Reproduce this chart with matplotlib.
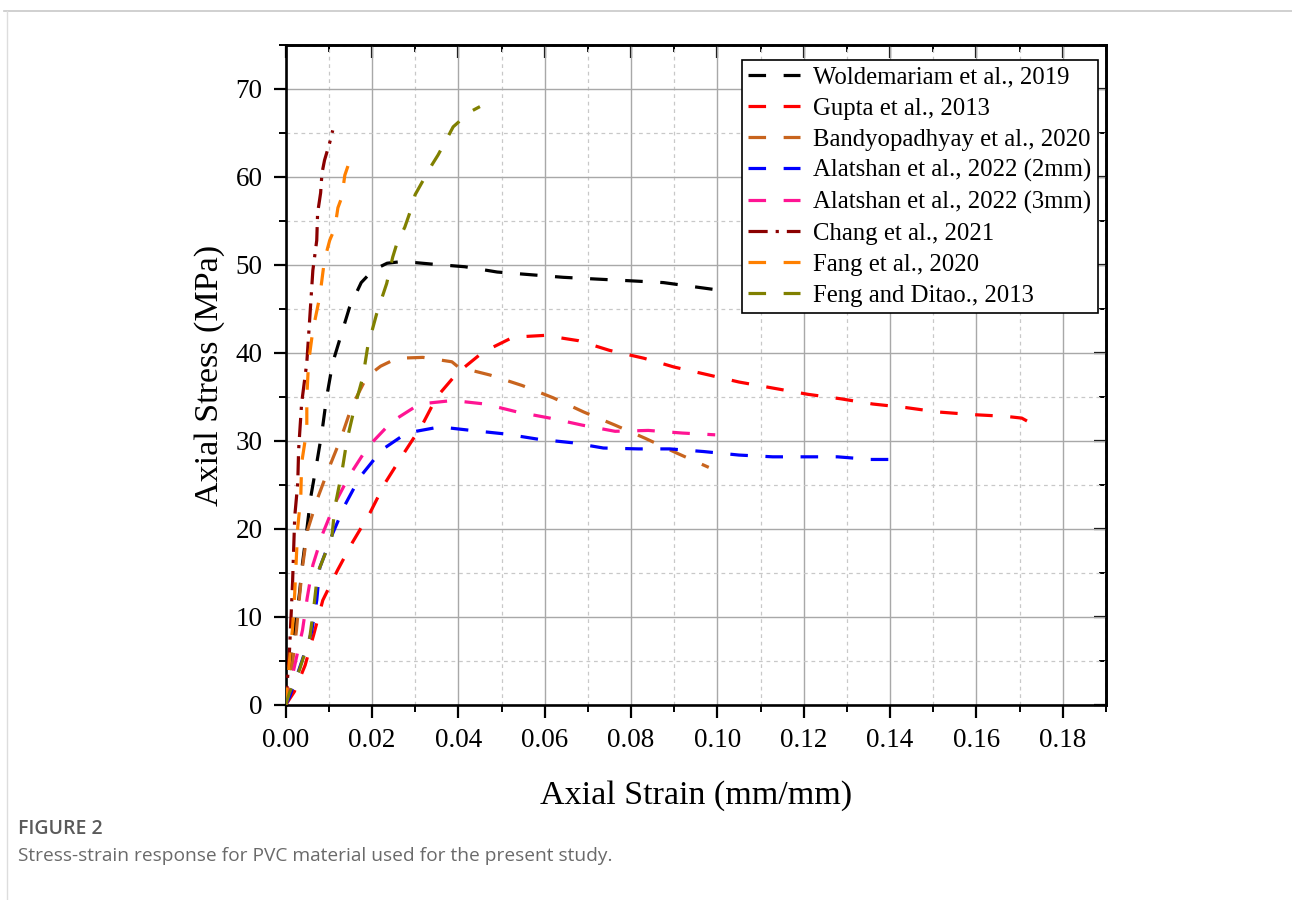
import numpy as np
import matplotlib
matplotlib.use('Agg')
import matplotlib.pyplot as plt
from matplotlib.lines import Line2D
from matplotlib.ticker import MultipleLocator

wold_x = [0, 0.0009, 0.0021, 0.0032, 0.0039, 0.0049, 0.0058, 0.0072, 0.0084, 0.0095, 0.0109, 0.013, 0.0148,
          0.0175, 0.0202, 0.0235, 0.0271, 0.0339, 0.0415, 0.049, 0.0566, 0.0643, 0.072, 0.080, 0.0875, 0.095, 0.1025]
wold_y = [0, 4.3, 8.5, 12.7, 16.1, 19.9, 23.6, 27.5, 31.0, 35.0, 38.9, 42.3, 45.2,
          48.0, 49.4, 50.2, 50.4, 50.1, 49.8, 49.2, 48.9, 48.6, 48.4, 48.2, 48.0, 47.5, 47.0]

gupta_x = [0, 0.002, 0.0045, 0.0065, 0.0086, 0.012, 0.0155, 0.0195, 0.023, 0.0271, 0.0316, 0.035, 0.0397,
           0.0457, 0.0527, 0.060, 0.0678, 0.075, 0.083, 0.090, 0.098, 0.105, 0.113, 0.121, 0.1285, 0.136,
           0.1436, 0.151, 0.159, 0.1668, 0.1705, 0.1742]
gupta_y = [0, 1.5, 4.5, 8.0, 11.9, 15.3, 18.5, 21.8, 25.2, 28.4, 31.8, 35.0, 37.7,
           40.1, 41.8, 42.0, 41.4, 40.3, 39.4, 38.4, 37.5, 36.7, 36.0, 35.3, 34.8, 34.2,
           33.8, 33.3, 33.0, 32.8, 32.6, 31.6]

bandy_x = [0, 0.0016, 0.0025, 0.0032, 0.0039, 0.0051, 0.0074, 0.010, 0.0128, 0.0153, 0.0188, 0.022, 0.0258,
           0.0318, 0.0385, 0.040, 0.0473, 0.0548, 0.062, 0.069, 0.0763, 0.0833, 0.0907, 0.098]
bandy_y = [0, 4.8, 8.5, 12.3, 15.7, 19.9, 23.5, 26.9, 30.3, 33.9, 37.3, 38.5, 39.4,
           39.5, 39.0, 38.4, 37.5, 36.3, 34.9, 33.3, 31.8, 30.3, 28.6, 27.0]

ala2_x = [0, 0.0009, 0.0037, 0.006, 0.0072, 0.0079, 0.0109, 0.0137, 0.0172, 0.0223, 0.028, 0.0357, 0.043,
          0.0508, 0.0585, 0.0664, 0.0736, 0.0817, 0.089, 0.0968, 0.105, 0.1128, 0.12, 0.1278, 0.1355, 0.1432]
ala2_y = [0, 0.9, 4.9, 8.3, 11.9, 15.6, 19.5, 22.7, 25.9, 29.0, 30.9, 31.6, 31.2,
          30.8, 30.2, 29.8, 29.2, 29.1, 29.1, 28.8, 28.4, 28.2, 28.2, 28.2, 27.9, 27.9]

ala3_x = [0, 0.0021, 0.0039, 0.005, 0.0063, 0.0086, 0.0115, 0.0148, 0.019, 0.0246, 0.031, 0.0387, 0.0462,
          0.0536, 0.0612, 0.0687, 0.0763, 0.084, 0.0919, 0.0995]
ala3_y = [0, 4.5, 8.5, 12.2, 15.9, 19.5, 23.0, 26.1, 29.3, 32.2, 34.2, 34.6, 34.2,
          33.3, 32.6, 31.8, 31.1, 31.2, 30.9, 30.7]

chang_x = [0, 0.0009, 0.0016, 0.0021, 0.0028, 0.003, 0.0037, 0.0049, 0.0056, 0.0063, 0.0072, 0.0074,
           0.0081, 0.0084, 0.009, 0.0102, 0.0109]
chang_y = [0, 6.3, 13.9, 21.4, 25.2, 29.0, 34.3, 38.9, 44.1, 49.4, 52.8, 55.9,
           58.2, 60.4, 61.9, 63.9, 65.3]

fang_x = [0, 0.0009, 0.0016, 0.0021, 0.0028, 0.0035, 0.0037, 0.0049, 0.0049, 0.0053, 0.0063, 0.0079,
          0.009, 0.0102, 0.0114, 0.0121, 0.013, 0.0137, 0.0146]
fang_y = [0, 5.1, 8.8, 12.7, 20.2, 23.6, 27.5, 31.3, 35.0, 38.9, 42.6, 46.4,
          50.6, 52.8, 54.2, 56.5, 57.7, 60.2, 61.5]

feng_x = [0, 0.0009, 0.0032, 0.0056, 0.0065, 0.0074, 0.0107, 0.0114, 0.013, 0.0142, 0.016, 0.0179, 0.019,
          0.0211, 0.0234, 0.0248, 0.0258, 0.0276, 0.0288, 0.030, 0.0316, 0.0339, 0.0353, 0.0374, 0.0388,
          0.0427, 0.045]
feng_y = [0, 1.4, 4.0, 7.7, 11.0, 15.0, 19.1, 22.5, 26.4, 30.1, 33.9, 37.3, 40.7,
          44.5, 47.9, 50.9, 52.5, 54.3, 56.0, 58.0, 59.4, 61.4, 62.5, 64.4, 65.7,
          67.4, 68.0]

labels = ['Woldemariam et al., 2019', 'Gupta et al., 2013', 'Bandyopadhyay et al., 2020',
          'Alatshan et al., 2022 (2mm)', 'Alatshan et al., 2022 (3mm)', 'Chang et al., 2021',
          'Fang et al., 2020', 'Feng and Ditao., 2013']
colors = ['#000000', '#FF0000', '#C8641E', '#0000FF', '#FF1493', '#8B0000', '#FF8000', '#808000']
series = [(wold_x, wold_y), (gupta_x, gupta_y), (bandy_x, bandy_y), (ala2_x, ala2_y),
          (ala3_x, ala3_y), (chang_x, chang_y), (fang_x, fang_y), (feng_x, feng_y)]

plt.rcParams['font.family'] = ['Liberation Serif', 'DejaVu Serif']

fig = plt.figure(figsize=(12.92, 9), dpi=100)
ax = fig.add_axes([0.2211, 0.2167, 0.856 - 0.2211, 0.95 - 0.2167])

dash = (0, (5.5, 5.5))
dashdot = (0, (6, 2.5, 1, 2.5))
for (xs, ys), lab, c in zip(series, labels, colors):
    ls = dashdot if lab.startswith('Chang') else dash
    ax.plot(xs, ys, color=c, lw=2.3, linestyle=ls, label=lab, zorder=3)

ax.set_xlim(0, 0.19)
ax.set_ylim(0, 75)
ax.xaxis.set_minor_locator(MultipleLocator(0.01))
ax.yaxis.set_minor_locator(MultipleLocator(5))
xt = np.arange(0, 0.181, 0.02)
ax.set_xticks(xt)
ax.set_xticklabels([f'{v:.2f}' for v in xt])
ax.set_yticks(np.arange(0, 71, 10))

ax.grid(which='major', color='#A8A8A8', lw=1.0, linestyle='-')
ax.grid(which='minor', color='#C8C8C8', lw=0.9, linestyle=(0, (3, 3)))
ax.set_axisbelow(True)

for sp in ax.spines.values():
    sp.set_linewidth(1.9)

ax.tick_params(which='major', direction='out', length=9, width=1.6, labelsize=19.5, pad=7.5)
ax.tick_params(which='minor', direction='out', length=5, width=1.4)

# mirrored inward ticks on the top and right edges
top = ax.secondary_xaxis('top')
top.xaxis.set_major_locator(MultipleLocator(0.02))
top.xaxis.set_minor_locator(MultipleLocator(0.01))
top.tick_params(which='major', direction='in', length=9, width=1.6, labeltop=False)
top.tick_params(which='minor', direction='in', length=5, width=1.4)
top.spines['top'].set_linewidth(1.9)
right = ax.secondary_yaxis('right')
right.yaxis.set_major_locator(MultipleLocator(10))
right.yaxis.set_minor_locator(MultipleLocator(5))
right.tick_params(which='major', direction='in', length=9, width=1.6, labelright=False)
right.tick_params(which='minor', direction='in', length=5, width=1.4)
right.spines['right'].set_linewidth(1.9)

ax.set_xlabel('Axial Strain (mm/mm)', fontsize=24.5, labelpad=20)
ax.set_ylabel('Axial Stress (MPa)', fontsize=24.5, labelpad=8)

leg = ax.legend(loc='upper right', bbox_to_anchor=(0.990, 0.977), fontsize=17.8, frameon=True,
                fancybox=False, edgecolor='black', framealpha=1, handlelength=2.1,
                handletextpad=0.55, labelspacing=0.35, borderaxespad=0.0, borderpad=0.25)
leg.get_frame().set_linewidth(1.2)
leg.set_zorder(5)

# page frame lines and caption
fig.add_artist(Line2D([0.003, 1.0], [1 - 11 / 900, 1 - 11 / 900], color='#C8C8C8', lw=1.2))
fig.add_artist(Line2D([7 / 1292, 7 / 1292], [0.0, 1 - 11 / 900], color='#DDDDDD', lw=1.0))
fig.text(18 / 1292, 1 - 829 / 900, 'FIGURE 2', family='Open Sans', weight='semibold',
         fontsize=14, color='#5A5A5A', va='center', ha='left')
fig.text(18 / 1292, 1 - 856 / 900, 'Stress-strain response for PVC material used for the present study.',
         family='Open Sans', fontsize=13.8, color='#6A6A6A', va='center', ha='left')

fig.savefig('out.png', dpi=100)
